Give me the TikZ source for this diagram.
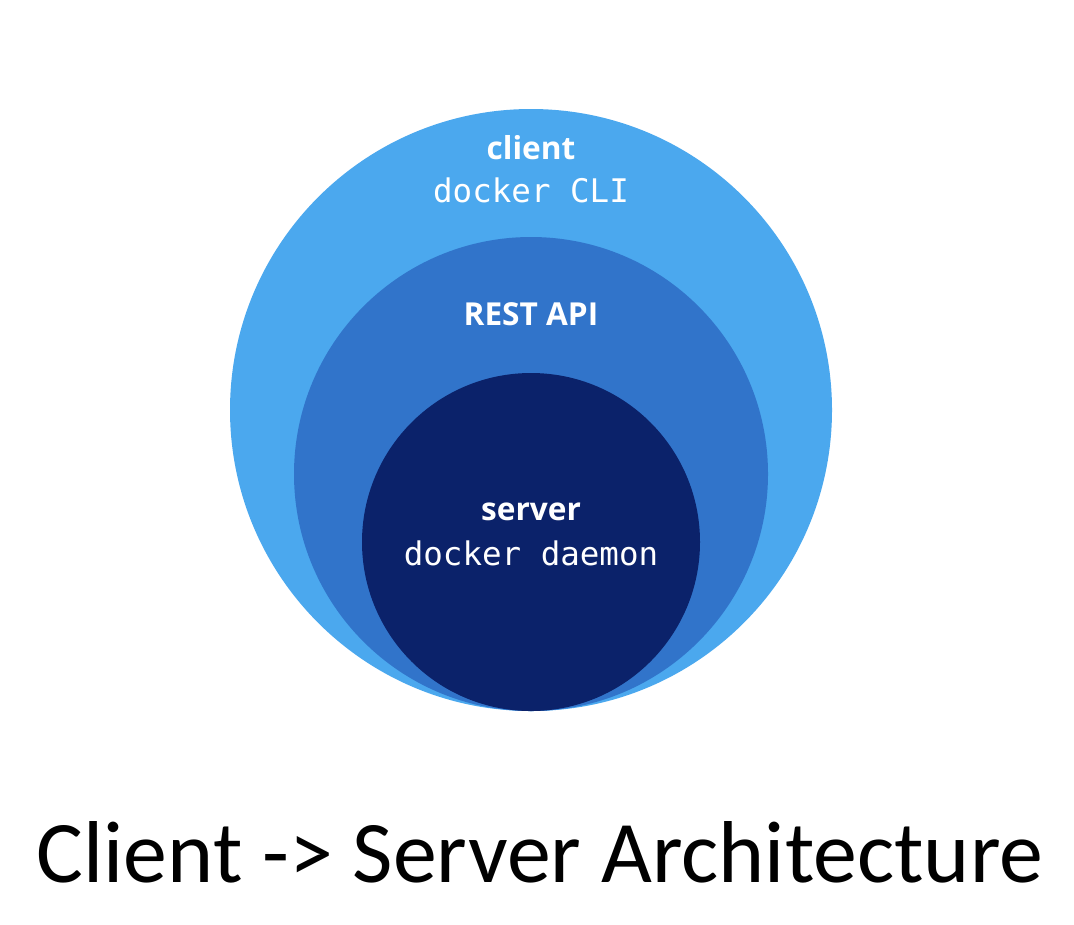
\documentclass[tikz,border=0pt]{standalone}
\usepackage{fontspec}
\setmainfont{Open Sans}
\setmonofont{DejaVu Sans Mono}
\newfontfamily\titlefont{Carlito}
\definecolor{clientblue}{HTML}{4BA8EE}
\definecolor{restblue}{HTML}{3174CA}
\definecolor{serverblue}{HTML}{0B226A}
\begin{document}
\begin{tikzpicture}[x=0.02cm, y=-0.02cm, line join=round, line cap=round,
	head/.style={text=white, font=\fontsize{18}{22}\selectfont\bfseries},
	cmd/.style={text=white, font=\fontsize{18.5}{22}\selectfont\ttfamily}]
		\useasboundingbox (0,0) rectangle (1074,924);
		\fill[clientblue] (531,410) circle (301);
		\fill[restblue] (531,474) circle (237);
		\fill[serverblue] (531,542) circle (169);
		
		\node[head] (client) at (531,148) {client};
		\node[cmd] (cli) at (531,190) {docker CLI};
		\node[head] (rest) at (531,314) {REST API};
		\node[head] (server) at (531,512) {server};
		\node[cmd] (daemon) at (531,553) {docker daemon};
		\node[font=\titlefont\fontsize{50}{60}\selectfont] (title) at (540,852) {Client -> Server Architecture};
	\end{tikzpicture}
\end{document}
